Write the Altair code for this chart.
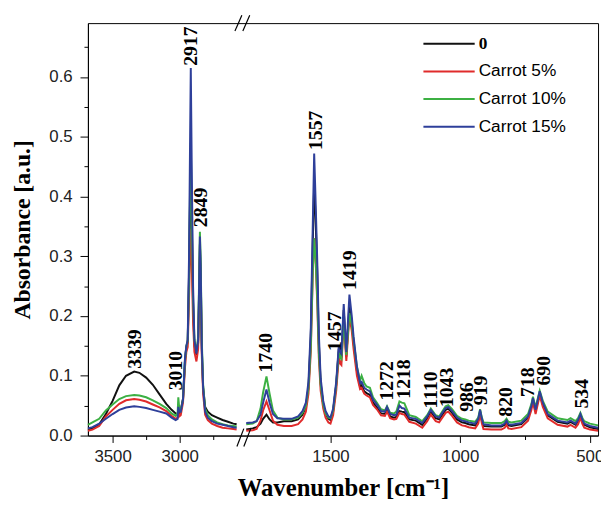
import altair as alt
import pandas as pd

# ---------------- data ----------------
series_names = ["0", "Carrot 5%", "Carrot 10%", "Carrot 15%"]
series_colors = ["#111111", "#e02b2b", "#3cb043", "#2e3f9a"]

# high-wavenumber segment (3684 - 2575 cm-1)
left_wn = [3684, 3650, 3600, 3550, 3500, 3450, 3400, 3339, 3300, 3250, 3200, 3150,
           3100, 3060, 3030, 3015, 3010, 3003, 2992, 2975, 2960, 2950, 2940, 2930,
           2922, 2917, 2910, 2900, 2890, 2875, 2862, 2855, 2849, 2843, 2835, 2825,
           2810, 2790, 2760, 2720, 2680, 2640, 2600, 2575]
left_black = [0.010, 0.012, 0.019, 0.036, 0.058, 0.084, 0.100, 0.107, 0.105, 0.097, 0.085, 0.069,
              0.053, 0.043, 0.037, 0.036, 0.042, 0.038, 0.042, 0.062, 0.128, 0.148, 0.156, 0.270,
              0.400, 0.445, 0.360, 0.220, 0.150, 0.135, 0.155, 0.240, 0.320, 0.270, 0.145, 0.080,
              0.048, 0.040, 0.034, 0.030, 0.026, 0.023, 0.020, 0.019]
left_red = [0.008, 0.010, 0.016, 0.032, 0.043, 0.053, 0.059, 0.061, 0.060, 0.057, 0.052, 0.047,
            0.041, 0.033, 0.028, 0.030, 0.040, 0.032, 0.034, 0.055, 0.115, 0.140, 0.148, 0.230,
            0.310, 0.345, 0.290, 0.190, 0.140, 0.124, 0.145, 0.225, 0.300, 0.250, 0.135, 0.070,
            0.035, 0.026, 0.020, 0.016, 0.013, 0.012, 0.011, 0.010]
left_green = [0.018, 0.022, 0.028, 0.042, 0.052, 0.061, 0.066, 0.068, 0.067, 0.064, 0.059, 0.053,
              0.046, 0.037, 0.033, 0.038, 0.064, 0.045, 0.042, 0.060, 0.125, 0.150, 0.158, 0.260,
              0.420, 0.490, 0.380, 0.230, 0.160, 0.140, 0.165, 0.260, 0.341, 0.290, 0.160, 0.085,
              0.045, 0.034, 0.027, 0.022, 0.019, 0.017, 0.016, 0.015]
left_blue = [0.012, 0.014, 0.020, 0.028, 0.036, 0.043, 0.047, 0.049, 0.048, 0.046, 0.043, 0.040,
             0.037, 0.030, 0.026, 0.028, 0.048, 0.040, 0.040, 0.060, 0.130, 0.150, 0.160, 0.300,
             0.500, 0.615, 0.450, 0.250, 0.160, 0.137, 0.160, 0.250, 0.333, 0.280, 0.150, 0.080,
             0.040, 0.030, 0.024, 0.020, 0.018, 0.016, 0.014, 0.013]

# fingerprint segment (1825 - 468 cm-1)
right_wn = [1825, 1800, 1785, 1770, 1760, 1747, 1735, 1722, 1705, 1680, 1650, 1625,
            1608, 1595, 1585, 1576, 1568, 1563, 1558, 1551, 1545, 1538, 1528, 1519,
            1508, 1500, 1490, 1478, 1468, 1462, 1458, 1449, 1439, 1427, 1418, 1411,
            1398, 1386, 1380, 1370, 1361, 1348, 1336, 1321, 1305, 1290, 1282, 1270,
            1255, 1246, 1234, 1225, 1215, 1196, 1171, 1146, 1127, 1113, 1094, 1081,
            1056, 1046, 1031, 1012, 993, 980, 967, 942, 930, 923, 916, 910,
            879, 841, 828, 821, 814, 802, 764, 738, 725, 719, 709, 693,
            681, 662, 624, 586, 574, 555, 545, 536, 528, 521, 499, 468]
right_blue = [0.021, 0.022, 0.024, 0.035, 0.055, 0.077, 0.055, 0.036, 0.029, 0.028, 0.028, 0.032,
              0.041, 0.055, 0.090, 0.180, 0.360, 0.472, 0.400, 0.290, 0.170, 0.096, 0.058, 0.041,
              0.032, 0.030, 0.045, 0.090, 0.150, 0.140, 0.137, 0.220, 0.140, 0.236, 0.200, 0.165,
              0.115, 0.088, 0.090, 0.080, 0.077, 0.074, 0.060, 0.052, 0.041, 0.040, 0.048, 0.036,
              0.034, 0.035, 0.050, 0.046, 0.045, 0.030, 0.028, 0.021, 0.032, 0.043, 0.032, 0.030,
              0.046, 0.048, 0.041, 0.030, 0.025, 0.024, 0.022, 0.020, 0.028, 0.043, 0.028, 0.019,
              0.017, 0.017, 0.020, 0.025, 0.019, 0.018, 0.021, 0.032, 0.050, 0.063, 0.043, 0.074,
              0.055, 0.036, 0.025, 0.022, 0.025, 0.020, 0.026, 0.036, 0.026, 0.020, 0.016, 0.013]
right_green = [0.019, 0.020, 0.024, 0.045, 0.072, 0.099, 0.070, 0.042, 0.030, 0.027, 0.027, 0.030,
               0.038, 0.050, 0.080, 0.150, 0.280, 0.330, 0.300, 0.230, 0.140, 0.085, 0.052, 0.037,
               0.030, 0.029, 0.042, 0.085, 0.140, 0.130, 0.128, 0.190, 0.135, 0.205, 0.185, 0.160,
               0.115, 0.092, 0.100, 0.088, 0.082, 0.080, 0.064, 0.055, 0.044, 0.042, 0.049, 0.038,
               0.037, 0.040, 0.057, 0.055, 0.054, 0.034, 0.031, 0.024, 0.034, 0.045, 0.034, 0.032,
               0.049, 0.051, 0.044, 0.033, 0.028, 0.027, 0.025, 0.023, 0.030, 0.044, 0.030, 0.022,
               0.021, 0.021, 0.024, 0.028, 0.023, 0.022, 0.025, 0.036, 0.053, 0.065, 0.047, 0.075,
               0.058, 0.040, 0.029, 0.026, 0.029, 0.024, 0.029, 0.038, 0.029, 0.024, 0.020, 0.017]
right_black = [0.010, 0.012, 0.014, 0.020, 0.028, 0.035, 0.027, 0.022, 0.022, 0.024, 0.024, 0.027,
               0.035, 0.048, 0.080, 0.165, 0.330, 0.420, 0.370, 0.270, 0.155, 0.088, 0.052, 0.036,
               0.028, 0.026, 0.040, 0.085, 0.145, 0.135, 0.130, 0.210, 0.132, 0.220, 0.190, 0.155,
               0.108, 0.082, 0.084, 0.074, 0.071, 0.068, 0.055, 0.047, 0.037, 0.036, 0.043, 0.032,
               0.030, 0.031, 0.041, 0.040, 0.039, 0.027, 0.025, 0.018, 0.029, 0.040, 0.029, 0.027,
               0.043, 0.045, 0.038, 0.027, 0.022, 0.021, 0.019, 0.017, 0.025, 0.040, 0.025, 0.016,
               0.015, 0.015, 0.018, 0.023, 0.017, 0.016, 0.019, 0.030, 0.048, 0.060, 0.041, 0.071,
               0.052, 0.034, 0.023, 0.020, 0.023, 0.018, 0.024, 0.034, 0.024, 0.018, 0.014, 0.011]
right_red = [0.008, 0.009, 0.011, 0.025, 0.042, 0.057, 0.042, 0.025, 0.018, 0.016, 0.016, 0.019,
             0.027, 0.040, 0.070, 0.140, 0.280, 0.330, 0.300, 0.220, 0.130, 0.075, 0.045, 0.030,
             0.022, 0.020, 0.034, 0.075, 0.130, 0.120, 0.118, 0.190, 0.125, 0.200, 0.175, 0.145,
             0.100, 0.078, 0.080, 0.070, 0.067, 0.064, 0.051, 0.044, 0.034, 0.033, 0.040, 0.029,
             0.027, 0.028, 0.038, 0.036, 0.035, 0.023, 0.020, 0.013, 0.024, 0.035, 0.024, 0.022,
             0.038, 0.040, 0.033, 0.022, 0.017, 0.016, 0.014, 0.012, 0.020, 0.036, 0.020, 0.011,
             0.010, 0.010, 0.013, 0.018, 0.012, 0.011, 0.014, 0.025, 0.043, 0.056, 0.036, 0.067,
             0.048, 0.029, 0.018, 0.015, 0.018, 0.013, 0.019, 0.030, 0.019, 0.013, 0.010, 0.008]

# peak annotations
peak_labels = ["3339", "3010", "2917", "2849", "1740", "1557", "1457", "1419", "1272",
               "1218", "1110", "1043", "986", "919", "820", "718", "690", "534"]
peak_wn = [3333, 3027, 2917, 2843, 1750, 1557, 1481, 1424, 1282,
           1215, 1113, 1052, 974, 919, 821, 738, 675, 530]
peak_y = [0.110, 0.074, 0.617, 0.347, 0.104, 0.476, 0.140, 0.242, 0.057,
          0.060, 0.0435, 0.046, 0.038, 0.049, 0.030, 0.063, 0.082, 0.0435]

x_major = [3500, 3000, 1500, 1000, 500]
x_minor = [3250, 2750, 1750, 1250, 750]
y_ticks = [round(0.05 * i, 2) for i in range(14)]

# ---------------- build tables ----------------
rows = []
seg_data = {
    "left": (left_wn, [left_black, left_red, left_green, left_blue]),
    "right": (right_wn, [right_black, right_red, right_green, right_blue]),
}
for seg, (wns, vals) in seg_data.items():
    for name, vs in zip(series_names, vals):
        for w, v in zip(wns, vs):
            rows.append({"wn": w, "abs": v, "series": name, "segment": seg})
df = pd.DataFrame(rows)
ann = pd.DataFrame({"wn": peak_wn, "abs": peak_y, "label": peak_labels})

# ---------------- scales / axes ----------------
W, H = 517, 418
xscale = alt.Scale(domain=[3684, 2551, 1842, 468], range=[0, 154, 156, W], nice=False, zero=False)
yscale = alt.Scale(domain=[0, 0.69], nice=False, zero=False)

xaxis = alt.Axis(
    values=sorted(x_major + x_minor, reverse=True),
    labelExpr="datum.value % 500 == 0 ? datum.value : ''",
    tickSize={"condition": {"test": "datum.value % 500 != 0", "value": 4}, "value": 7},
    labelPadding=6, titlePadding=12, labelOverlap=False, labelFlush=False,
    titleFontSize=25,
)
yaxis = alt.Axis(
    values=y_ticks,
    labelExpr="round(datum.value * 100) % 10 == 0 ? format(datum.value, '.1f') : ''",
    tickSize={"condition": {"test": "round(datum.value * 100) % 10 != 0", "value": 4}, "value": 8},
    labelPadding=8, titlePadding=15, labelOverlap=False, titleFontSize=24,
)

x_enc = alt.X("wn:Q", scale=xscale, axis=xaxis, title="Wavenumber [cm⁻¹]")
y_enc = alt.Y("abs:Q", scale=yscale, axis=yaxis, title="Absorbance [a.u.]")

legend = alt.Legend(
    title=None, orient="none", legendX=339, legendY=13, padding=0,
    symbolType="stroke", symbolSize=2700, symbolStrokeWidth=2, clipHeight=16,
    labelFontSize=17.5, labelOffset=3, rowPadding=10, labelColor="black",
    labelFont={"expr": "datum.label == '0' ? 'Liberation Serif' : 'Liberation Sans'"},
    labelFontWeight={"expr": "datum.label == '0' ? 'bold' : 'normal'"},
)
color_enc = alt.Color("series:N", scale=alt.Scale(domain=series_names, range=series_colors), legend=legend)

layers = []
for s in series_names:
    layers.append(
        alt.Chart(df).transform_filter(alt.datum.series == s)
        .mark_line(strokeWidth=2)
        .encode(x=x_enc, y=y_enc, color=color_enc, detail="segment:N")
    )

labels = alt.Chart(ann).mark_text(
    angle=270, align="left", baseline="middle", font="Liberation Serif",
    fontWeight="bold", fontSize=20, color="black", dx=1
).encode(x=x_enc, y=y_enc, text="label:N")
layers.append(labels)

one = pd.DataFrame({"k": [0]})
for (xa, xb, ya, yb) in [(149, 156, 8, -8), (157, 164, 8, -8), (151, 158, 429, 411), (158, 165, 429, 411)]:
    layers.append(
        alt.Chart(one).mark_rule(color="black", strokeWidth=1.2).encode(
            x=alt.value(xa), x2=alt.value(xb), y=alt.value(ya), y2=alt.value(yb))
    )

chart = alt.layer(*layers).properties(
    width=W, height=H, background="white",
    autosize=alt.AutoSizeParams(type="none"),
    padding={"left": 81, "top": 12, "right": 3, "bottom": 63},
).configure_view(stroke="black", strokeWidth=1).configure_axis(
    grid=False, domainColor="black", tickColor="black", domainWidth=1, tickWidth=1,
    labelFont="Liberation Sans", labelFontSize=17, labelColor="#222",
    titleFont="Liberation Serif", titleFontWeight="bold", titleColor="black",
)

chart.save("out.html", embed_options={"renderer": "svg", "actions": False})
